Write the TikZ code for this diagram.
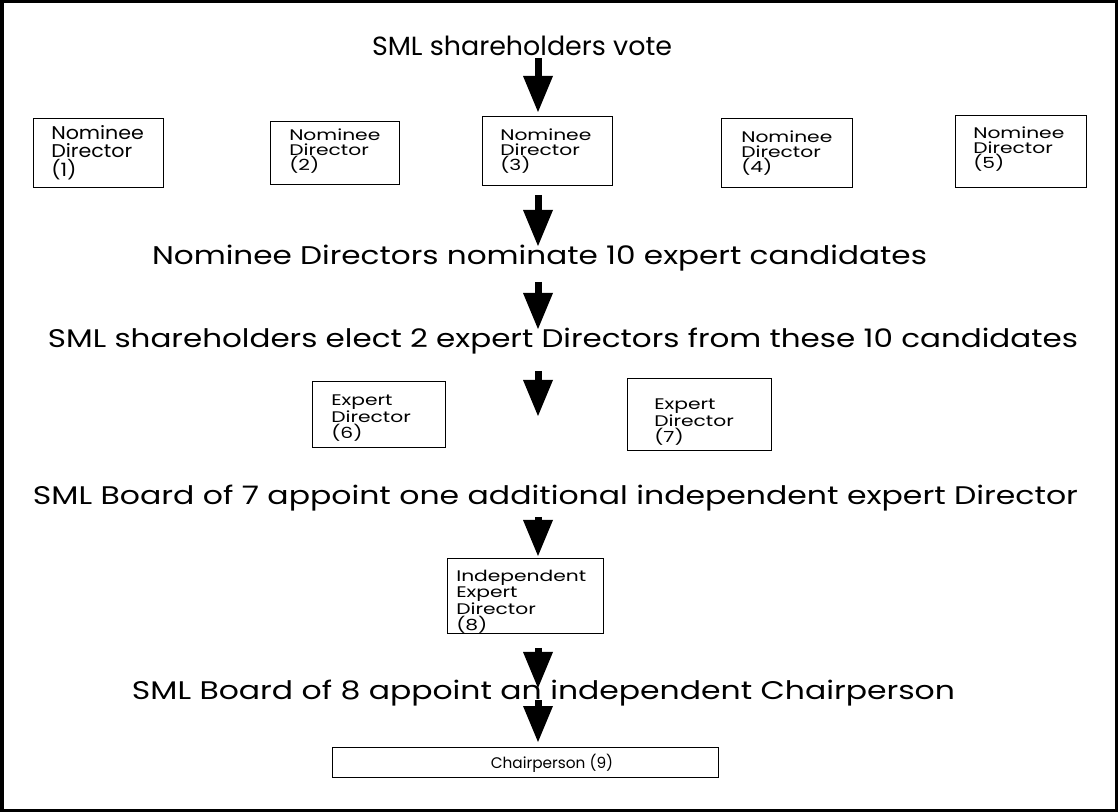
\documentclass[tikz,border=0pt]{standalone}
\usepackage{fontspec}
\setmainfont{Poppins}
\newfontfamily\boxfont[FakeStretch=1.32]{Poppins}
\newfontfamily\boxfontA[FakeStretch=1.12]{Poppins}
\usetikzlibrary{arrows.meta,fit}
\tikzset{
  bx/.style={draw, line width=0.75pt, inner sep=0pt},
  btxt/.style={anchor=north west, inner sep=0pt, align=left, font={\boxfont\fontsize{11.5}{10.6}\selectfont}},
  btxtA/.style={anchor=north west, inner sep=0pt, align=left, font={\boxfontA\fontsize{13.8}{13.8}\selectfont}},
  ln/.style={anchor=base, inner sep=0pt},
  flow/.style={line width=5.25pt, -{Triangle[length=27pt,width=22.5pt,line width=0pt]}},
}
\newcommand{\fitline}[2]{\resizebox{#1}{14.6pt}{\fontsize{20}{24}\selectfont #2}}
\begin{document}
\begin{tikzpicture}[x=0.75pt,y=-0.75pt]
\useasboundingbox (0,0) rectangle (1118,812);
\draw[line width=2.625pt] (1.75,1.75) rectangle (1116.25,810.25);

% main lines
\node[ln] (l0) at (522,56) {\fitline{225pt}{SML shareholders vote}};
\node[ln] (l1) at (539.5,265) {\fitline{581.25pt}{Nominee Directors nominate 10 expert candidates}};
\node[ln] (l2) at (563,348) {\fitline{772.5pt}{SML shareholders elect 2 expert Directors from these 10 candidates}};
\node[ln] (l3) at (555.5,505) {\fitline{783.75pt}{SML Board of 7 appoint one additional independent expert Director}};
\node[ln] (l4) at (543.5,700) {\fitline{617.25pt}{SML Board of 8 appoint an independent Chairperson}};

% nominee boxes
\node[bx, fit={(33,119) (163,188)}] (n1) {};
\node[btxtA] (n1t) at (51,125) {Nominee\\Director\\(1)};
\node[bx, fit={(270,122) (399,185)}] (n2) {};
\node[btxt] (n2t) at (289,129) {Nominee\\Director\\(2)};
\node[bx, fit={(482,117) (612,186)}] (n3) {};
\node[btxt] (n3t) at (500,129) {Nominee\\Director\\(3)};
\node[bx, fit={(721,119) (852,188)}] (n4) {};
\node[btxt] (n4t) at (741,131) {Nominee\\Director\\(4)};
\node[bx, fit={(955,116) (1086,188)}] (n5) {};
\node[btxt] (n5t) at (973,127) {Nominee\\Director\\(5)};

% expert boxes
\node[bx, fit={(312,382) (445,448)}] (e6) {};
\node[btxt] (e6t) at (331,395) {Expert\\Director\\(6)};
\node[bx, fit={(627,379) (771,451)}] (e7) {};
\node[btxt] (e7t) at (654,399) {Expert\\Director\\(7)};

% independent
\node[bx, fit={(447,559) (603,634)}] (i8) {};
\node[btxt] (i8t) at (456,570) {Independent\\Expert\\Director\\(8)};

% chairperson
\node[bx, fit={(332,747) (718,777)}] (c9) {};
\node[ln, font={\fontsize{11.5}{13}\selectfont}] (c9t) at (552,768) {Chairperson (9)};

% arrows
\coordinate (a1s) at (538,58);  \coordinate (a1e) at (538,112);
\coordinate (a2s) at (538,195); \coordinate (a2e) at (538,246);
\coordinate (a3s) at (538,282); \coordinate (a3e) at (538,329);
\coordinate (a4s) at (538,371); \coordinate (a4e) at (538,416);
\coordinate (a5s) at (538,517); \coordinate (a5e) at (538,556);
\coordinate (a6s) at (538,648); \coordinate (a6e) at (538,688);
\coordinate (a7s) at (538,700); \coordinate (a7e) at (538,742);
\draw[flow] (a1s) -- (a1e);
\draw[flow] (a2s) -- (a2e);
\draw[flow] (a3s) -- (a3e);
\draw[flow] (a4s) -- (a4e);
\draw[flow] (a5s) -- (a5e);
\draw[flow] (a6s) -- (a6e);
\draw[flow] (a7s) -- (a7e);
\end{tikzpicture}
\end{document}
